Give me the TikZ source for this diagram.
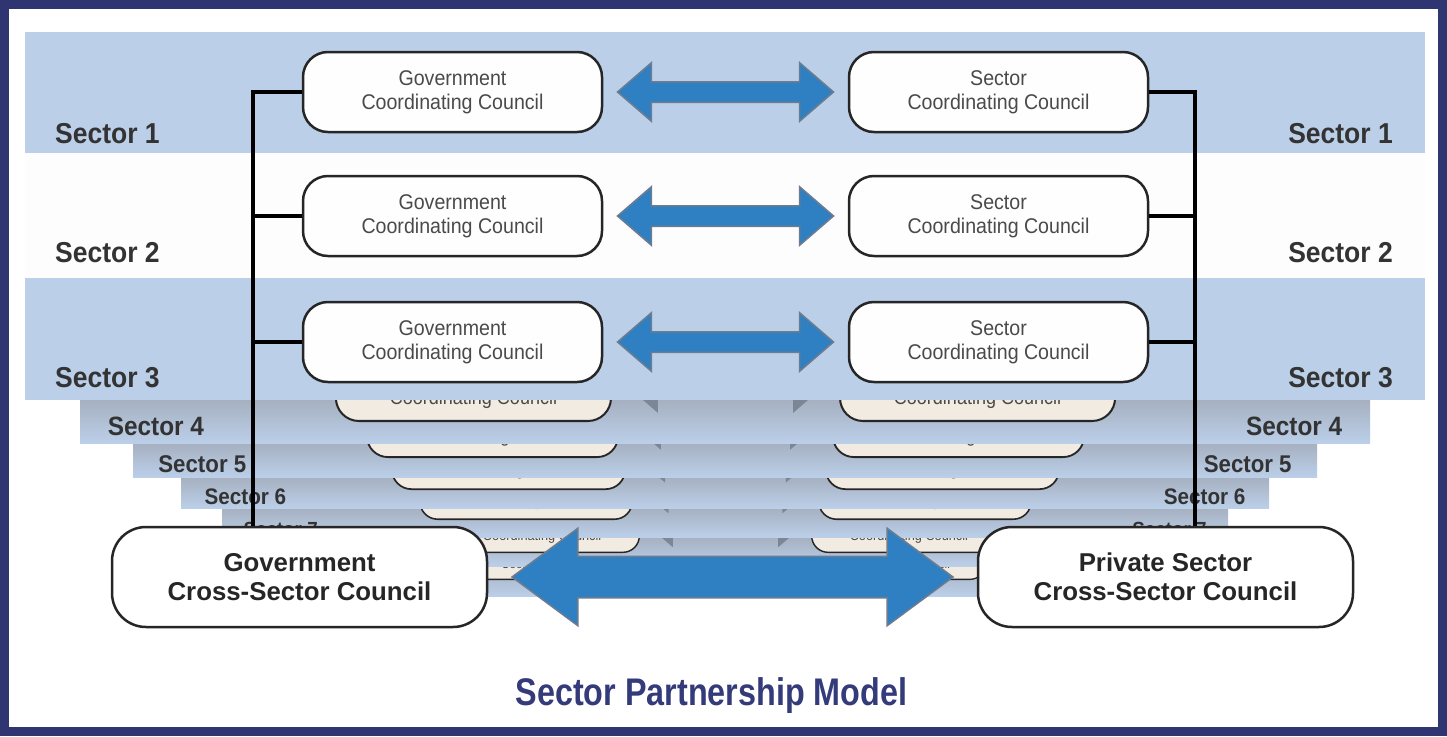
\documentclass[tikz,border=0pt]{standalone}
\usepackage{fontspec}
\setmainfont{Liberation Sans}
\newfontfamily\titlefont[FakeStretch=0.84]{Liberation Sans}
\newfontfamily\narrowfont[FakeStretch=0.92]{Liberation Sans}
\usetikzlibrary{shapes.arrows, calc, positioning}
\definecolor{framenavy}{HTML}{2F3570}
\definecolor{titlenavy}{HTML}{343B7A}
\definecolor{bandblue}{HTML}{BBCFE9}
\definecolor{bandgrey}{HTML}{A6B0C0}
\definecolor{arrowblue}{HTML}{2E80C2}
\definecolor{arrowedge}{HTML}{6D7C8E}
\definecolor{arrowgrey}{HTML}{7C8796}
\definecolor{labelgrey}{HTML}{333333}
\definecolor{textgrey}{HTML}{4A4A4A}
\definecolor{boxcream}{HTML}{F2EBE2}

\begin{document}
\begin{tikzpicture}[x=1pt, y=-1pt,
    council/.style={draw=black!85, line width=2.5, rounded corners=25, fill=white!97!boxcream,
        minimum width=299, minimum height=80, inner sep=0, align=center, text=textgrey,
        font=\narrowfont\fontsize{21.3}{24}\selectfont},
    backcouncil/.style={council, fill=boxcream},
    crossbox/.style={draw=black!85, line width=2.5, rounded corners=34, fill=white,
        minimum width=375, minimum height=100, inner sep=0, align=center, text=black!85,
        font=\bfseries\fontsize{25.8}{29}\selectfont},
    sectorlabel/.style={text=labelgrey, inner sep=0, font=\narrowfont\bfseries\fontsize{28.8}{30}\selectfont},
    duoarrow/.style={double arrow, fill=arrowblue, draw=arrowedge, line width=1.5,
        inner xsep=0, inner ysep=9.5, double arrow head extend=19,
        double arrow tip angle=81.6, minimum width=57, minimum height=216},
    bigduo/.style={duoarrow, inner ysep=20, double arrow head extend=28,
        double arrow tip angle=73, minimum width=96, minimum height=441},
    link/.style={line width=3.5, black}]
  \useasboundingbox (0,0) rectangle (1447,736);
  \fill[white] (0,0) rectangle (1447,736);

  % sectors seen further back, drawn from the deepest one
  \foreach \k/\s/\bl/\ed/\bb/\bt/\bd in {9/0.60/300/646/580/566/596, 8/0.65/264/640/553/537/566,
      7/0.71/222/633/520/508/537, 6/0.78/181/626/490/477/508,
      5/0.84/133/619/458/443/477, 4/0.92/80/612/422/400/443}{
    \pgfmathsetmacro\fs{21.3*\s}
    \pgfmathsetmacro\ld{24*\s}
    \fill[top color=bandgrey, bottom color=bandblue] (\bl,\bt) rectangle ({1450-\bl},\bd);
    \node[backcouncil, anchor=south east, minimum width=299*\s, minimum height=70*\s,
        rounded corners=25*\s, line width=2.2*\s, font=\narrowfont\fontsize{\fs}{\ld}\selectfont]
        (gov\k) at (\ed,\bb) {Government\\Coordinating Council};
    \node[backcouncil, anchor=south west, minimum width=299*\s, minimum height=70*\s,
        rounded corners=25*\s, line width=2.2*\s, font=\narrowfont\fontsize{\fs}{\ld}\selectfont]
        (sec\k) at ({1451-\ed},\bb) {Sector\\Coordinating Council};
    \node[duoarrow, fill=arrowgrey, draw=arrowgrey, inner ysep=9.5*\s, yshift=5*\s,
        double arrow head extend=19*\s, minimum width=57*\s,
        minimum height={1451-2*\ed-30*\s}] (arr\k) at ($(gov\k.east)!0.5!(sec\k.west)$) {};
  }
  \foreach \k/\s/\bl/\ly in {4/0.92/80/435, 5/0.84/133/472, 6/0.78/181/504, 7/0.71/222/536}{
    \pgfmathsetmacro\fs{28.8*\s}
    \node[sectorlabel, anchor=base west, font=\narrowfont\bfseries\fontsize{\fs}{\fs}\selectfont]
        (lsec\k) at ({\bl+30*\s},\ly) {Sector \k};
    \node[sectorlabel, anchor=base east, font=\narrowfont\bfseries\fontsize{\fs}{\fs}\selectfont]
        (rsec\k) at ({1450-\bl-30*\s},\ly) {Sector \k};
  }

  % front sectors
  \fill[bandblue] (25,32) rectangle (1425,153);
  \fill[white!97!bandblue] (25,153) rectangle (1425,278);
  \fill[bandblue] (25,278) rectangle (1425,400);

  \node[council] (gov1) at (452.5,92) {Government\\Coordinating Council};
  \node[council] (sec1) at (998.5,92) {Sector\\Coordinating Council};
  \node[council] (gov2) at (452.5,216) {Government\\Coordinating Council};
  \node[council] (sec2) at (998.5,216) {Sector\\Coordinating Council};
  \node[council] (gov3) at (452.5,342) {Government\\Coordinating Council};
  \node[council] (sec3) at (998.5,342) {Sector\\Coordinating Council};
  \foreach \k in {1,2,3}{
    \node[duoarrow] (arr\k) at ($(gov\k.east)!0.5!(sec\k.west)$) {};
  }

  \node[sectorlabel, anchor=base west] (lsec1) at (55,143) {Sector 1};
  \node[sectorlabel, anchor=base east] (rsec1) at (1393,143) {Sector 1};
  \node[sectorlabel, anchor=base west] (lsec2) at (55,262) {Sector 2};
  \node[sectorlabel, anchor=base east] (rsec2) at (1393,262) {Sector 2};
  \node[sectorlabel, anchor=base west] (lsec3) at (55,387) {Sector 3};
  \node[sectorlabel, anchor=base east] (rsec3) at (1393,387) {Sector 3};

  % cross-sector councils
  \coordinate (gbus) at (253,92);
  \coordinate (pbus) at (1195,92);
  \node[crossbox] (govx) at (299.5,577) {Government\\Cross-Sector Council};
  \node[crossbox] (prvx) at (1165.5,577) {Private Sector\\Cross-Sector Council};
  \draw[link] (gov1.west) -- (gbus) -- (gbus |- govx.north);
  \draw[link] (gov2.west) -- (gov2.west -| gbus);
  \draw[link] (gov3.west) -- (gov3.west -| gbus);
  \draw[link] (sec1.east) -- (pbus) -- (pbus |- prvx.north);
  \draw[link] (sec2.east) -- (sec2.east -| pbus);
  \draw[link] (sec3.east) -- (sec3.east -| pbus);
  \node[bigduo] (arrx) at ($(govx.east)!0.5!(prvx.west)$) {};

  \node[text=titlenavy, anchor=base, font=\titlefont\bfseries\fontsize{38.5}{40}\selectfont]
      (title) at (711.5,705) {Sector Partnership Model};
  \draw[framenavy, line width=9] (4.5,4.5) rectangle (1442.5,731.5);
\end{tikzpicture}
\end{document}
